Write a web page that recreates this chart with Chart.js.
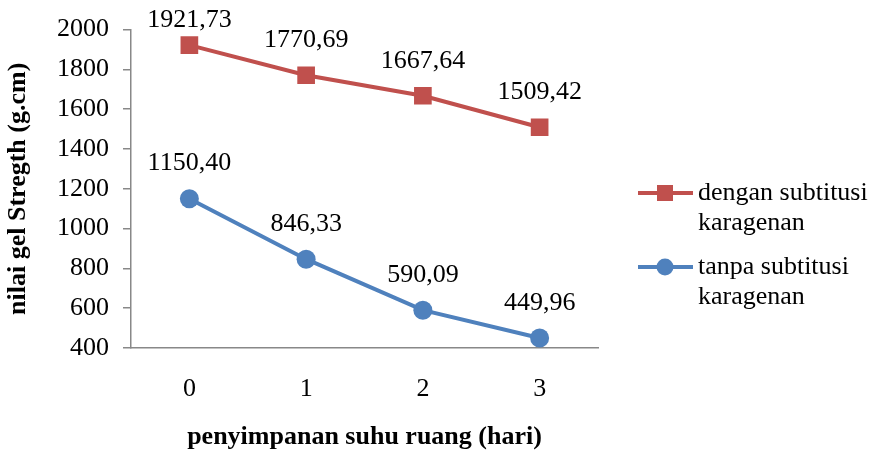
<!DOCTYPE html>
<html>
<head>
<meta charset="utf-8">
<script src="https://cdn.jsdelivr.net/npm/chart.js@4/dist/chart.umd.min.js"></script>
<style>
  html, body { margin: 0; padding: 0; background: #fff; }
  #wrap { width: 875px; height: 454px; }
</style>
</head>
<body>
<div id="wrap"><canvas id="chart" width="875" height="454"></canvas></div>
<script>
// data
const days = ["0", "1", "2", "3"];
const denganKaragenan = [1921.73, 1770.69, 1667.64, 1509.42];
const tanpaKaragenan = [1150.40, 846.33, 590.09, 449.96];
const seriesNames = [["dengan subtitusi", "karagenan"], ["tanpa subtitusi", "karagenan"]];

const red = "#C0504D";
const blue = "#4F81BD";
const serif = "'Liberation Serif', 'Times New Roman', serif";
const fs = 26;

// angka di atas titik, pakai koma
const valueLabels = {
  id: "valueLabels",
  afterDatasetsDraw(chart) {
    const ctx = chart.ctx;
    ctx.save();
    ctx.font = fs + "px " + serif;
    ctx.fillStyle = "#000";
    ctx.textAlign = "center";
    ctx.textBaseline = "middle";
    chart.data.datasets.forEach((ds, d) => {
      chart.getDatasetMeta(d).data.forEach((pt, k) => {
        const txt = ds.data[k].toFixed(2).replace(".", ",");
        let y = pt.y - 35;
        if (y < 20) y = 20;
        ctx.fillText(txt, pt.x, y);
      });
    });
    ctx.restore();
  },
};

// legend kanan, dua baris
const sideLegend = {
  id: "sideLegend",
  afterDraw(chart) {
    const ctx = chart.ctx;
    const rows = [193, 267];
    ctx.save();
    chart.data.datasets.forEach((ds, d) => {
      const y = rows[d];
      ctx.strokeStyle = ds.borderColor;
      ctx.lineWidth = 4;
      ctx.beginPath();
      ctx.moveTo(638, y);
      ctx.lineTo(693, y);
      ctx.stroke();
      ctx.fillStyle = ds.backgroundColor;
      ctx.beginPath();
      if (ds.pointStyle === "rect") {
        ctx.rect(665 - 8, y - 8, 16, 16);
      } else {
        ctx.arc(665, y, 8.5, 0, Math.PI * 2);
      }
      ctx.fill();
      ctx.fillStyle = "#000";
      ctx.font = fs + "px " + serif;
      ctx.textAlign = "left";
      ctx.textBaseline = "middle";
      seriesNames[d].forEach((line, n) => {
        ctx.fillText(line, 698, y + n * 30);
      });
    });
    ctx.restore();
  },
};

new Chart(document.getElementById("chart"), {
  type: "line",
  data: {
    labels: days,
    datasets: [
      {
        label: seriesNames[0].join(" "),
        data: denganKaragenan,
        borderColor: red,
        backgroundColor: red,
        borderWidth: 4,
        pointStyle: "rect",
        pointRadius: 12.5,
        pointBorderWidth: 0,
        tension: 0,
      },
      {
        label: seriesNames[1].join(" "),
        data: tanpaKaragenan,
        borderColor: blue,
        backgroundColor: blue,
        borderWidth: 4,
        pointStyle: "circle",
        pointRadius: 9.5,
        pointBorderWidth: 0,
        tension: 0,
      },
    ],
  },
  options: {
    responsive: false,
    animation: false,
    layout: { padding: { top: 29, right: 277, left: 0, bottom: 0 } },
    plugins: {
      legend: { display: false },
      tooltip: { enabled: false },
    },
    scales: {
      x: {
        offset: true,
        grid: { display: false, drawTicks: false },
        border: { display: true, color: "#888", width: 1.5 },
        ticks: { font: { family: serif, size: fs }, color: "#000", padding: 26 },
        title: {
          display: true,
          text: "penyimpanan suhu ruang (hari)",
          font: { family: serif, size: fs, weight: "bold" },
          color: "#000",
          padding: { top: 0, bottom: 1 },
        },
        afterFit(scale) { scale.height = 106; },
      },
      y: {
        min: 400,
        max: 2000,
        ticks: {
          stepSize: 200,
          font: { family: serif, size: fs },
          color: "#000",
          padding: 14,
          callback: (v) => String(v),
        },
        grid: { drawOnChartArea: false, drawTicks: true, tickLength: 8, color: "#888", lineWidth: 1.5 },
        border: { display: true, color: "#888", width: 1.5 },
        title: {
          display: true,
          text: "nilai gel Stregth (g.cm)",
          font: { family: serif, size: fs, weight: "bold" },
          color: "#000",
          padding: { top: 3, bottom: 0 },
        },
        afterFit(scale) { scale.width = 131; },
      },
    },
  },
  plugins: [valueLabels, sideLegend],
});
</script>
</body>
</html>
